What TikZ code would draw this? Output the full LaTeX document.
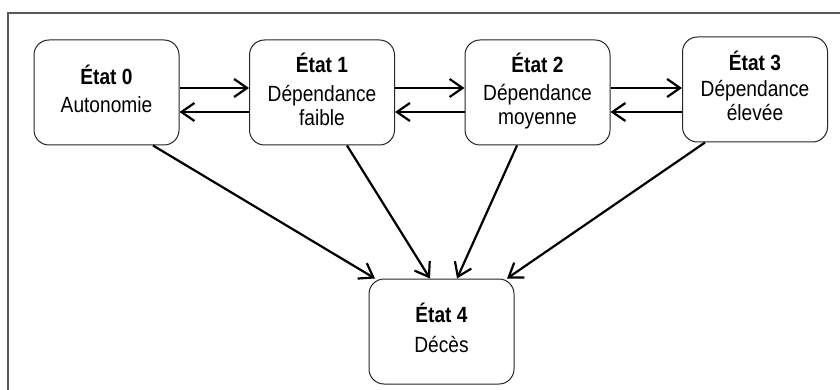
\documentclass[tikz,border=0pt]{standalone}
\usepackage{fontspec}
\setmainfont{Liberation Sans}[FakeStretch=0.87]
\usetikzlibrary{arrows.meta}
\begin{document}
\begin{tikzpicture}[x=1pt,y=-1pt,
  state/.style={draw=black!85, line width=1pt, rounded corners=15pt,
    minimum width=145pt, minimum height=105pt, align=center,
    font=\fontsize{22}{24}\selectfont, inner sep=0pt, fill=white},
  trans/.style={line width=2.2pt, draw=black,
    -{Straight Barb[length=13pt,width=18pt,line width=2.2pt]}},
  frame/.style={line width=2.2pt, draw=black!65}
]
\useasboundingbox (0,0) rectangle (840,390);
\draw[frame] (8,400) -- (8,13) -- (850,13);

\node[state] (s0) at (106.5,92.5) {\raisebox{9pt}{\begin{tabular}{@{}c@{}}\textbf{État 0}\\[4pt]Autonomie\end{tabular}}};
\node[state] (s1) at (322,92.5) {\raisebox{1pt}{\begin{tabular}{@{}c@{}}\textbf{État 1}\\[5pt]Dépendance\\faible\end{tabular}}};
\node[state] (s2) at (537.5,92.5) {\raisebox{5pt}{\begin{tabular}{@{}c@{}}\textbf{État 2}\\[4pt]Dépendance\\moyenne\end{tabular}}};
\node[state] (s3) at (755,89.5) {\raisebox{1pt}{\begin{tabular}{@{}c@{}}\textbf{État 3}\\[2pt]Dépendance\\élevée\end{tabular}}};
\node[state] (s4) at (441.5,331.5) {\raisebox{4pt}{\begin{tabular}{@{}c@{}}\textbf{État 4}\\[6pt]Décès\end{tabular}}};

% horizontal transitions
\draw[trans] ([yshift=4.5pt]s0.east) -- ([yshift=4.5pt]s1.west);
\draw[trans] ([yshift=-19.5pt]s1.west) -- ([yshift=-19.5pt]s0.east);
\draw[trans] ([yshift=4.5pt]s1.east) -- ([yshift=4.5pt]s2.west);
\draw[trans] ([yshift=-19.5pt]s2.west) -- ([yshift=-19.5pt]s1.east);
\draw[trans] ([yshift=4.5pt]s2.east) -- ([yshift=4.5pt]s2.east -| s3.west);
\draw[trans] ([yshift=-19.5pt]s2.east -| s3.west) -- ([yshift=-19.5pt]s2.east);

% transitions to death
\draw[trans] ([xshift=46.5pt]s0.south) -- ([xshift=-66.5pt]s4.north);
\draw[trans] ([xshift=25pt]s1.south) -- ([xshift=-11.5pt]s4.north);
\draw[trans] ([xshift=-20.5pt]s2.south) -- ([xshift=15.5pt]s4.north);
\draw[trans] ([xshift=-50pt]s3.south) -- ([xshift=65.5pt]s4.north);
\end{tikzpicture}
\end{document}
